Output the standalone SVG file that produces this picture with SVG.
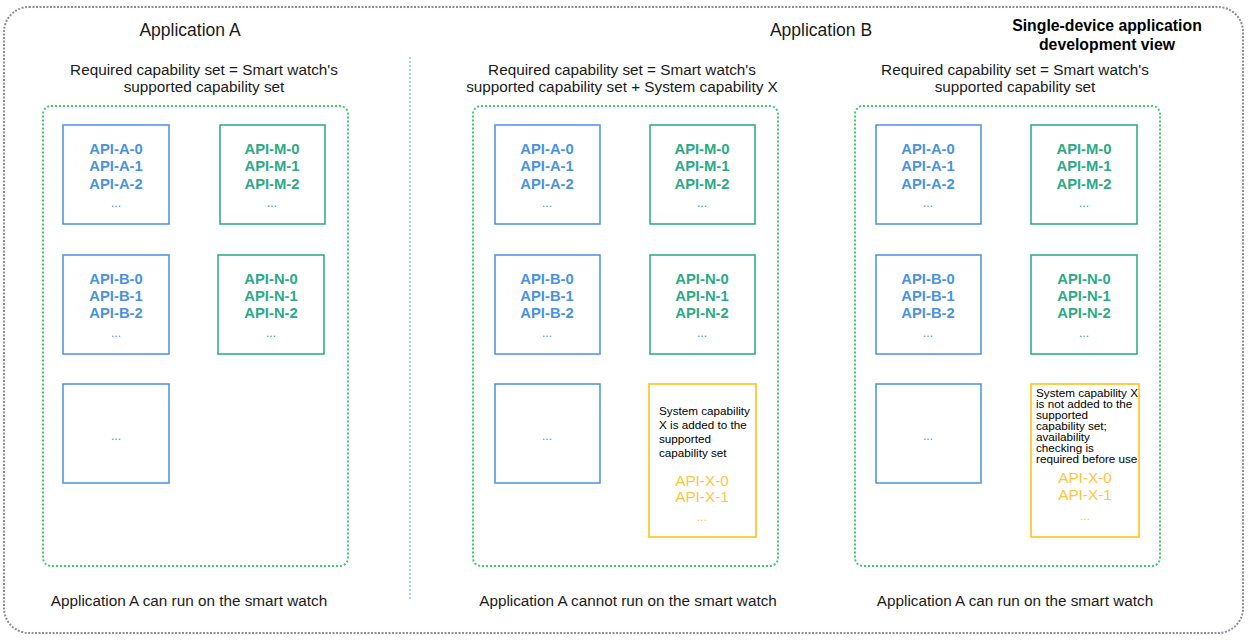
<svg xmlns="http://www.w3.org/2000/svg" width="1251" height="640" viewBox="0 0 1251 640">
<style>
text{font-family:"Liberation Sans",Arial,sans-serif;fill:#1a1a1a}
.t17{font-size:17.5px;text-anchor:middle}
.t14{font-size:15.3px;text-anchor:middle}
.hd{font-size:15.8px;font-weight:bold;text-anchor:middle;fill:#000}
.api{font-size:14.8px;font-weight:bold;text-anchor:middle}
.b{fill:#4A93DF}
.g{fill:#2BAA87}
.y{fill:#FFC53A;font-weight:normal;font-size:15.3px}
.d{font-weight:normal;font-size:12px}
.note{font-size:11.7px;fill:#000}
.bb{fill:#fff;stroke:#4A90E2;stroke-width:1.5}
.gb{fill:#fff;stroke:#26A882;stroke-width:1.5}
.yb{fill:#fff;stroke:#FFC21A;stroke-width:1.6}
.grp{fill:none;stroke:#3CCB6E;stroke-width:2;stroke-dasharray:2 2}
</style>
<rect width="1251" height="640" fill="#fff"/>
<rect x="4" y="7" width="1239" height="626" rx="25" fill="none" stroke="#8A8F9A" stroke-width="2" stroke-dasharray="2 1.5"/>
<line x1="410" y1="57" x2="410" y2="600" stroke="#7FAEDC" stroke-width="1.2" stroke-dasharray="2 2"/>
<text class="t17" x="190" y="36">Application A</text>
<text class="t17" x="821" y="36">Application B</text>
<text class="hd" x="1107" y="31">Single-device application</text>
<text class="hd" x="1107" y="50">development view</text>
<g id="panel1">
<text class="t14" x="204" y="75">Required capability set = Smart watch's</text>
<text class="t14" x="204" y="92">supported capability set</text>
<rect class="grp" x="43" y="106" width="305" height="460" rx="8"/>
<g id="p1-a"><rect class="bb" x="63" y="125" width="106" height="99"/><text class="api b" x="116" y="154">API-A-0</text><text class="api b" x="116" y="171">API-A-1</text><text class="api b" x="116" y="189">API-A-2</text><text class="api b d" x="116" y="207">...</text></g>
<g id="p1-m"><rect class="gb" x="220" y="125" width="105" height="99"/><text class="api g" x="272" y="154">API-M-0</text><text class="api g" x="272" y="171">API-M-1</text><text class="api g" x="272" y="189">API-M-2</text><text class="api g d" x="272" y="207">...</text></g>
<g id="p1-b"><rect class="bb" x="63" y="255" width="106" height="99"/><text class="api b" x="116" y="284">API-B-0</text><text class="api b" x="116" y="301">API-B-1</text><text class="api b" x="116" y="318">API-B-2</text><text class="api b d" x="116" y="337">...</text></g>
<g id="p1-n"><rect class="gb" x="218" y="255" width="106" height="99"/><text class="api g" x="271" y="284">API-N-0</text><text class="api g" x="271" y="301">API-N-1</text><text class="api g" x="271" y="318">API-N-2</text><text class="api g d" x="271" y="337">...</text></g>
<g id="p1-etc"><rect class="bb" x="63" y="384" width="106" height="99"/><text class="api b d" x="116" y="440">...</text></g>
<text class="t14" x="189" y="606">Application A can run on the smart watch</text>
</g>
<g id="panel2">
<text class="t14" x="622" y="75">Required capability set = Smart watch's</text>
<text class="t14" x="622" y="92">supported capability set + System capability X</text>
<rect class="grp" x="473" y="106" width="305" height="460" rx="8"/>
<g id="p2-a"><rect class="bb" x="495" y="125" width="105" height="99"/><text class="api b" x="547" y="154">API-A-0</text><text class="api b" x="547" y="171">API-A-1</text><text class="api b" x="547" y="189">API-A-2</text><text class="api b d" x="547" y="207">...</text></g>
<g id="p2-m"><rect class="gb" x="650" y="125" width="105" height="99"/><text class="api g" x="702" y="154">API-M-0</text><text class="api g" x="702" y="171">API-M-1</text><text class="api g" x="702" y="189">API-M-2</text><text class="api g d" x="702" y="207">...</text></g>
<g id="p2-b"><rect class="bb" x="495" y="255" width="105" height="99"/><text class="api b" x="547" y="284">API-B-0</text><text class="api b" x="547" y="301">API-B-1</text><text class="api b" x="547" y="318">API-B-2</text><text class="api b d" x="547" y="337">...</text></g>
<g id="p2-n"><rect class="gb" x="650" y="255" width="105" height="99"/><text class="api g" x="702" y="284">API-N-0</text><text class="api g" x="702" y="301">API-N-1</text><text class="api g" x="702" y="318">API-N-2</text><text class="api g d" x="702" y="337">...</text></g>
<g id="p2-etc"><rect class="bb" x="495" y="384" width="105" height="99"/><text class="api b d" x="547" y="440">...</text></g>
<g id="p2-x"><rect class="yb" x="649" y="384" width="107" height="153"/>
<text class="note" x="659" y="415">System capability</text><text class="note" x="659" y="429">X is added to the</text><text class="note" x="659" y="443">supported</text><text class="note" x="659" y="457">capability set</text>
<text class="api y" x="702" y="486">API-X-0</text><text class="api y" x="702" y="502">API-X-1</text><text class="api y d" x="702" y="521">...</text></g>
<text class="t14" x="628" y="606">Application A cannot run on the smart watch</text>
</g>
<g id="panel3">
<text class="t14" x="1015" y="75">Required capability set = Smart watch's</text>
<text class="t14" x="1015" y="92">supported capability set</text>
<rect class="grp" x="855" y="106" width="305" height="460" rx="8"/>
<g id="p3-a"><rect class="bb" x="876" y="125" width="105" height="99"/><text class="api b" x="928" y="154">API-A-0</text><text class="api b" x="928" y="171">API-A-1</text><text class="api b" x="928" y="189">API-A-2</text><text class="api b d" x="928" y="207">...</text></g>
<g id="p3-m"><rect class="gb" x="1031" y="125" width="106" height="99"/><text class="api g" x="1084" y="154">API-M-0</text><text class="api g" x="1084" y="171">API-M-1</text><text class="api g" x="1084" y="189">API-M-2</text><text class="api g d" x="1084" y="207">...</text></g>
<g id="p3-b"><rect class="bb" x="876" y="255" width="105" height="99"/><text class="api b" x="928" y="284">API-B-0</text><text class="api b" x="928" y="301">API-B-1</text><text class="api b" x="928" y="318">API-B-2</text><text class="api b d" x="928" y="337">...</text></g>
<g id="p3-n"><rect class="gb" x="1031" y="255" width="106" height="99"/><text class="api g" x="1084" y="284">API-N-0</text><text class="api g" x="1084" y="301">API-N-1</text><text class="api g" x="1084" y="318">API-N-2</text><text class="api g d" x="1084" y="337">...</text></g>
<g id="p3-etc"><rect class="bb" x="876" y="384" width="105" height="99"/><text class="api b d" x="928" y="440">...</text></g>
<g id="p3-x"><rect class="yb" x="1031" y="384" width="108" height="153"/>
<text class="note" x="1036" y="397">System capability X</text><text class="note" x="1036" y="408">is not added to the</text><text class="note" x="1036" y="419">supported</text><text class="note" x="1036" y="430">capability set;</text><text class="note" x="1036" y="441">availability</text><text class="note" x="1036" y="452">checking is</text><text class="note" x="1036" y="463">required before use</text>
<text class="api y" x="1085" y="483">API-X-0</text><text class="api y" x="1085" y="500">API-X-1</text><text class="api y d" x="1085" y="520">...</text></g>
<text class="t14" x="1015" y="606">Application A can run on the smart watch</text>
</g>
</svg>
